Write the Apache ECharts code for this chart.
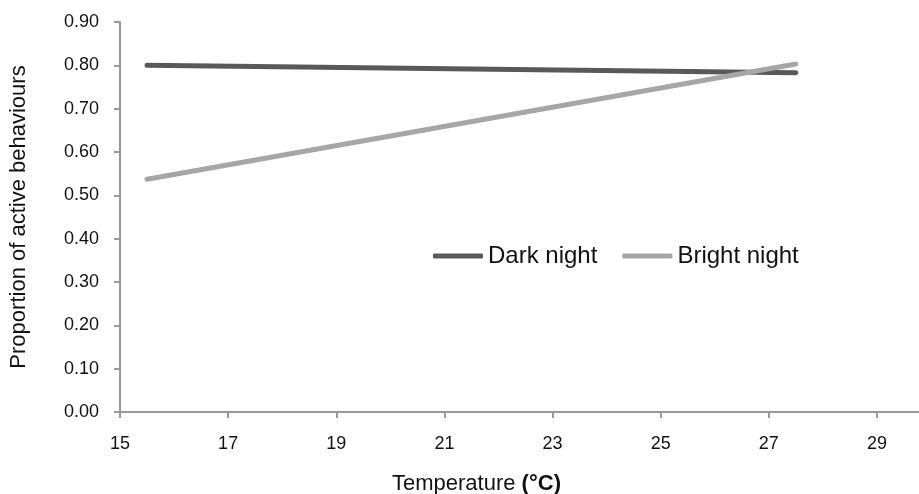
<!DOCTYPE html>
<html>
<head>
<meta charset="utf-8">
<script src="https://cdn.jsdelivr.net/npm/echarts@6/dist/echarts.min.js"></script>
<style>html,body{margin:0;padding:0;background:#fff}#c{width:919px;height:494px}</style>
</head>
<body>
<div id="c"></div>
<script>
var seriesNames = ['Dark night', 'Bright night'];
var temperature = [15.5, 27.5];
var darkNight = [0.800, 0.783];
var brightNight = [0.537, 0.803];
var xTicks = [15, 17, 19, 21, 23, 25, 27, 29];
var yTicks = [0, 0.1, 0.2, 0.3, 0.4, 0.5, 0.6, 0.7, 0.8, 0.9];

var font = '"Liberation Sans", Arial, sans-serif';
var chart = echarts.init(document.getElementById('c'), null, {renderer: 'canvas'});
function pairs(xs, ys) { return xs.map(function (x, i) { return [x, ys[i]]; }); }

chart.setOption({
  animation: false,
  textStyle: {fontFamily: font},
  grid: {left: 120, right: -12, top: 22, bottom: 82, containLabel: false, outerBoundsMode: 'none'},
  legend: {
    left: 428, top: 239,
    itemWidth: 50, itemHeight: 5, itemGap: 25,
    icon: 'roundRect',
    textStyle: {fontFamily: font, fontSize: 24, color: '#111'},
    data: seriesNames
  },
  xAxis: {
    type: 'value', min: 15, max: 30, interval: 2,
    axisLine: {lineStyle: {color: '#999', width: 2}},
    axisTick: {show: true, length: 6, lineStyle: {color: '#999', width: 2}},
    splitLine: {show: false},
    axisLabel: {fontFamily: font, fontSize: 18, color: '#111', margin: 23,
      formatter: function (v) { return xTicks.indexOf(v) >= 0 ? String(v) : ''; }}
  },
  yAxis: {
    type: 'value', min: 0, max: 0.9, interval: 0.1,
    axisLine: {show: true, lineStyle: {color: '#999', width: 2}},
    axisTick: {show: true, length: 6, lineStyle: {color: '#999', width: 2}},
    splitLine: {show: false},
    axisLabel: {fontFamily: font, fontSize: 18, color: '#111', margin: 21,
      formatter: function (v) { return v.toFixed(2); }},
    name: 'Proportion of active behaviours',
    nameLocation: 'middle', nameGap: 90,
    nameTextStyle: {fontFamily: font, fontSize: 22, color: '#111'}
  },
  title: {
    text: 'Temperature {b|(°C)}',
    left: 387, top: 468,
    textStyle: {fontFamily: font, fontSize: 22, fontWeight: 'normal', color: '#111',
      rich: {b: {fontFamily: font, fontSize: 22, fontWeight: 'bold', color: '#111'}}}
  },
  series: [
    {name: seriesNames[0], type: 'line', data: pairs(temperature, darkNight), symbol: 'none',
     lineStyle: {color: '#595959', width: 5, cap: 'round'}, itemStyle: {color: '#595959'}},
    {name: seriesNames[1], type: 'line', data: pairs(temperature, brightNight), symbol: 'none',
     lineStyle: {color: '#a6a6a6', width: 5, cap: 'round'}, itemStyle: {color: '#a6a6a6'}}
  ]
});
</script>
</body>
</html>
